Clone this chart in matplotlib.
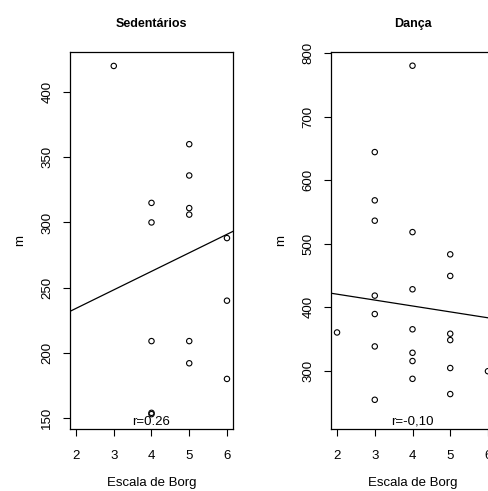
import matplotlib
matplotlib.use("Agg")
import matplotlib.pyplot as plt

# --------------DADOS------------------------------
# Sedentários: escala de Borg x distância (m)
sed_borg = [3, 4, 4, 4, 4, 4, 5, 5, 5, 5, 5, 5, 6, 6, 6]
sed_m = [420, 315, 300, 209, 154, 153, 360, 336, 311, 306, 209, 192, 288, 240, 180]
sed_reta = (205.7, 14.2)     # intercepto, inclinação
sed_r = "r=0.26"

# Dança
dan_borg = [2, 3, 3, 3, 3, 3, 3, 3, 4, 4, 4, 4, 4, 4, 4, 5, 5, 5, 5, 5, 5, 6]
dan_m = [360, 644, 568, 536, 418, 389, 338, 254, 780, 518, 428, 365, 328, 315, 287,
         483, 449, 358, 348, 304, 263, 299]
dan_reta = (438.9, -9.3)
dan_r = "r=-0,10"

x_ticks = [2, 3, 4, 5, 6]

plt.rcParams["font.family"] = ["Liberation Sans", "DejaVu Sans"]

W, H = 488, 491
fig = plt.figure(figsize=(W / 100, H / 100), dpi=100)

# painel: titulo, dados, reta, texto r, ylim, yticks, y do texto, esquerda (px)
paineis = [
    ("Sedentários", sed_borg, sed_m, sed_reta, sed_r, (141.6, 430.7), [150, 200, 250, 300, 350, 400], 144.5, 70),
    ("Dança", dan_borg, dan_m, dan_reta, dan_r, (208, 801.6), [300, 400, 500, 600, 700, 800], 215, 331),
]

for titulo, xs, ys, reta, rtxt, ylim, yticks, ytxt, left in paineis:
    ax = fig.add_axes([left / W, 1 - 429 / H, 163 / W, 377 / H])
    ax.scatter(xs, ys, s=15, facecolors="none", edgecolors="black", linewidths=0.8, zorder=3)
    ax.axline((0, reta[0]), slope=reta[1], color="black", lw=0.9)
    ax.set_xlim(1.84, 6.16)
    ax.set_ylim(*ylim)
    ax.set_xticks(x_ticks)
    ax.set_yticks(yticks)
    ax.tick_params(direction="out", length=5, width=0.8, labelsize=9.5, colors="black")
    ax.tick_params(axis="x", pad=10)
    ax.tick_params(axis="y", pad=7)
    for lab in ax.get_yticklabels():
        lab.set_rotation(90)
        lab.set_va("center")
    for s in ax.spines.values():
        s.set_linewidth(0.9)
    ax.text(4, ytxt, rtxt, ha="center", va="baseline", fontsize=9.5)
    ax.set_title(titulo, fontsize=9, fontweight="bold", pad=18)
    ax.set_xlabel("Escala de Borg", fontsize=9.5, labelpad=11)
    ax.set_ylabel("m", fontsize=9.5, labelpad=11)

plt.savefig("out.png", dpi=100)
